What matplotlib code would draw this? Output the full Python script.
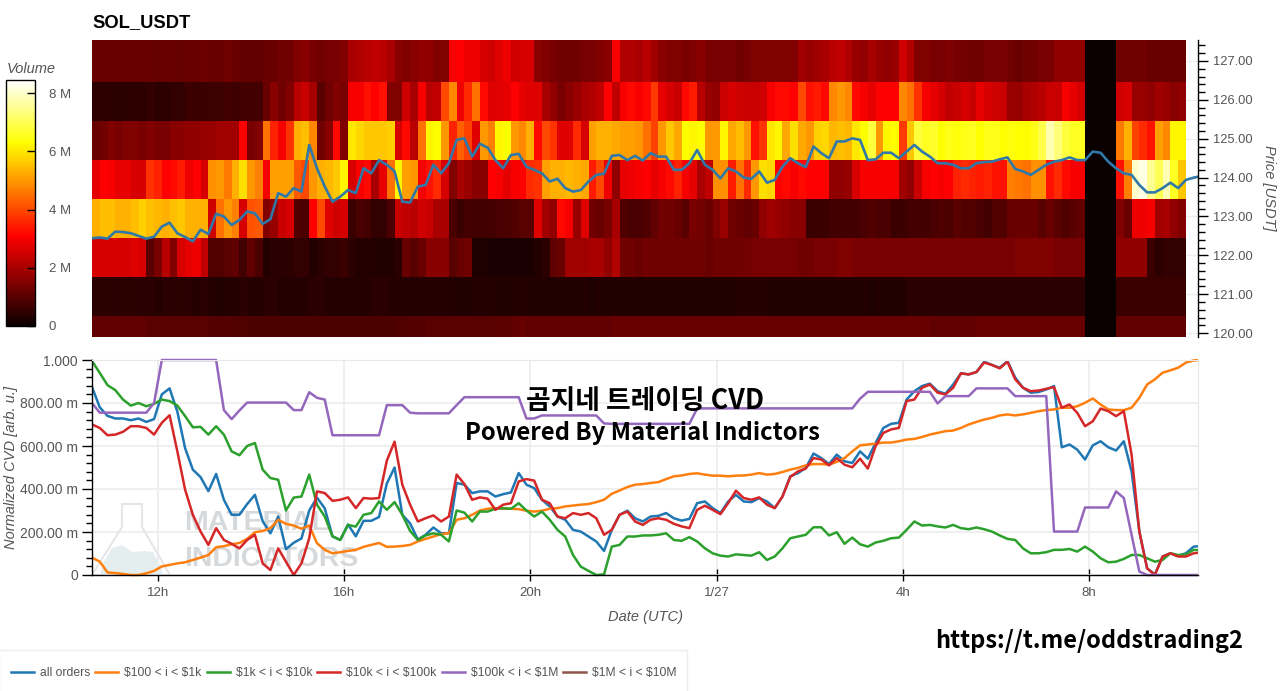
import numpy as np
import matplotlib
matplotlib.use('Agg')
import matplotlib.pyplot as plt
from matplotlib.transforms import Affine2D
from matplotlib.patches import Polygon, Rectangle
from matplotlib.lines import Line2D
from matplotlib.ticker import MultipleLocator

plt.rcParams['font.family'] = ['Liberation Sans', 'DejaVu Sans']

###  DATA  ###

first_hour = 10.58     # hours after 1/26 00:00 UTC
heat_step = 1/6        # ten minute columns
line_step = 1/6

price_rows = [120, 121, 122, 123, 124, 125, 126, 127]

# volume per price bin, in millions
vol_127 = [1.2,1.2,1.2,1.2,1.2,1.2,1.2, 1.2,1.15,1.2,1.2,1.15,1.2,1.2,1.25,1.2,1.2,1.3,1.2, 1.1,1.1,1.1,1.2,1.2,1.3,1.3, 1.5,1.6,1.4,1.3,1.4,1.4,1.5, 2.0,2.1,2.2,2.3,2.2,2.0, 1.6,1.5,1.6,1.7,1.7,
           1.5,1.5, 3.0,3.1,2.9,2.9, 2.6,2.5,2.7,2.9,2.5,2.6,2.6, 1.6,1.5,1.4,1.3,1.3,1.3,1.4,1.4,1.5,1.6, 3.0, 2.1,2.1,2.0,2.2,1.9, 1.6,1.5,1.5,1.4,1.5,1.6,1.4,1.4,1.4,1.4,1.3,1.4,1.5,1.5,1.5,1.5,1.5,1.5, 1.9,1.8,1.9,2.0, 2.2,2.3,2.1,
           1.8,1.7,2.0,1.8,1.7,1.8, 2.5,2.1, 1.5,1.5,1.4,1.4,1.5,1.4,1.3,1.3,1.3,1.4,1.4,1.4,1.3,1.2,1.3,1.3,1.4,1.4, 1.7,1.7,1.7,1.7,
           0,0,0,0, 1.3,1.3,1.3,1.3,1.2,1.2,1.2,1.2,1.2]
vol_126 = [.45,.45,.45,.4,.45,.45,.45,.5,.45,.45,.5,.5, .65,.6,.6,.65,.65,.7,.65,.7,.7,.7, 1.2,1.6,1.3,1.5, 2.2,2.4,2.0, 1.0,1.3,1.5,1.4, 3.0,3.0,3.3,3.1,3.3, 1.5,1.5, 2.5,2.0, 3.0,2.2,
           2.3,4.0,4.8,2.9,3.6,4.5,3.2, 2.7,2.7,2.8,3.1, 2.8,2.7,2.7,2.0,1.7, 1.4,1.6,1.8,2.0,2.1,2.3, 3.1,2.3, 3.0,3.2,3.0,3.2,3.8, 2.8,2.6,2.4, 3.2,3.4,2.2,1.8,1.7, 2.4,2.6,2.5,2.4,2.4,2.5, 3.0,3.2,3.2,3.1,4.0, 3.3,3.4,3.2, 4.8,5.0,4.8,
           3.2, 3.0,2.8,3.1,3.1,3.1, 4.8,4.5,3.7, 3.0,2.8,2.6, 2.3,2.4,2.6,2.4,2.8,2.6,2.5,2.4, 1.8,1.8,2.0,2.1,2.2,2.4,2.4, 3.0,2.8,2.6,
           0,0,0,0, 2.5,2.6,1.8,1.8,1.7,1.9,1.8,1.6,1.7]
vol_125 = [1.2,1.3,1.5,1.4,1.5,1.5,1.4,1.5,1.4,1.4,1.6,1.6,1.7,1.7,1.8,1.8,1.9,1.9,1.9, 3.1, 1.4,1.5, 4.5,3.5,3.0,3.7, 5.3,5.5,4.8, 1.3,1.6,3.2,1.5, 6.0,5.8,5.6,5.6,5.6,5.7, 2.6,3.2,2.2,4.5,6.2,
           6.3,5.0,3.5,4.3,3.9,2.7,5.0,4.7,6.2,6.3,5.0,4.8,5.3,3.2,4.0,3.7,2.7,2.7,3.6,2.6,5.1,5.3,5.3,5.2,5.1,5.1,5.0,4.5,3.9,5.0,5.6,5.2,6.3,6.2,6.3,5.0,5.0,6.2,5.2,5.5,5.0,3.3,3.7,6.0,6.2,5.2,5.9,5.2,5.0,5.7,5.8,5.4,5.5,5.4,
           6.0,6.3,6.8,5.0,6.2,6.3,3.8,5.6,6.8,6.6,6.7,6.3,6.5,6.4,6.5,6.6,6.3,6.5,6.5,6.3,6.4,6.3,6.3,6.5,6.9,7.8,7.3,6.8,6.6,6.6,
           0,0,0,0, 4.6,5.3,3.9,3.6,3.3,5.1,4.8,6.2,6.2]
vol_124 = [2.8,3.1,3.0,2.8,2.8,2.6,2.6, 3.7,3.5,3.1,3.2,3.4,2.9,3.1,2.6, 4.9,5.0,4.6,5.3,5.9,5.0,4.7, 3.0, 5.1,5.1,5.1, 4.2,4.0,5.0,5.3, 5.4,5.6,6.2, 2.6,3.0,3.2,2.0,2.8,4.5, 6.2,5.1,5.0,3.0,3.3,
           3.6,2.6,1.5,2.0,1.8,1.6,1.6,3.1,3.0,2.8,3.0,3.1,3.6,3.7,5.1,5.3,5.3,5.4,5.3,5.2,3.4,4.0,2.9,1.7,2.8,2.9,3.0,3.1,2.8,3.0,3.2,3.5,3.0,2.8,2.0,2.3,4.9,4.9,3.4,4.5,3.6,5.0,5.9,5.8,3.1,3.2,3.0,3.2,3.1,3.1,3.1,1.7,1.7,1.8,
           2.6,3.0,3.0,3.0,3.0,3.0,1.9,1.7,2.4,3.0,3.1,3.0,3.1,3.5,3.6,3.5,3.4,3.5,3.3,3.3,4.7,4.6,4.5,4.9,4.9,3.3,3.6,3.2,3.0,3.0,
           0,0,0,0, 3.3,4.7,8.0,8.2,7.5,7.0,7.8,6.6,5.6]
vol_123 = [5.3,5.5,5.5,5.3,5.3,5.5,5.7,5.5,5.4,5.3,5.5,5.6,5.3,5.3,5.3, 2.5,4.5,5.0,4.7,2.6,4.1,4.2, 1.5,1.8,2.4,2.6, .9,.8,3.1,4.0,2.7,2.5,2.6, .6,.8,.7,.5,.5,.8, 2.4,2.3,2.2,2.5,2.4,
           2.0,2.0,.8,.6,.75,.7,.7,.7,.8,.8,.9,1.0,1.0,2.7,1.9,1.7,3.2,3.0,1.8,2.7,1.3,1.2,1.4,2.0,.9,.8,.8,.9,1.1,1.3,1.3,1.2,1.0,1.4,1.3,1.2,1.5,1.8,1.3,1.2,1.1,1.2,1.7,1.9,1.8,1.7,1.6,1.6,.6,.6,.6,.7,.7,.7,
           .7,.8,.9,.8,.8,.6,.65,.7,.75,.7,.8,.9,.8,1.0,.9,.9,.8,.7,.9,.9, 1.2,1.2,1.2,1.2,1.0,1.2,1.0,.9,1.0,1.1,
           0,0,0,0, 1.5,1.2,2.9,2.9,3.0,1.9,2.0,1.7,1.5]
vol_122 = [2.6,2.6,2.6,2.6,2.6,2.7,2.6, 1.0,1.4,2.2,1.5,2.6,2.8,2.9,2.3, .9,.9,1.0,1.1,.7,1.1,.8, .3,.4,.4,.45,.5,.5,.3,.4,.5,.5,.6, .4,.3,.35,.3,.3,.3,.4, 1.2,1.0,1.2,1.6,
           1.6,1.6,1.0,1.2,1.3, .25,.25,.2,.2,.2,.2,.2,.2,.3,.4, 1.1, 1.2,1.9,1.9,1.9,2.0,2.0,1.7,2.1, 1.3,1.3,1.2,1.3,1.3,1.3,1.3,1.3,1.3,1.3,1.3,1.2,1.3,1.3,1.3,1.3,1.3,1.4,1.4,1.4,1.4,1.4,1.4,1.3,1.3,1.4,1.4,1.4,1.5,1.5,
           1.4,1.4,1.4,1.4,1.4,1.4,1.4,1.4,1.4,1.4,1.4,1.4,1.4,1.4,1.4,1.4,1.4,1.4,1.4,1.4,1.4,1.5,1.5,1.5,1.5,1.5,1.4,1.4,1.4,1.4,
           0,0,0,0, 1.7,1.7,1.7,1.7,.6,.45,.5,.5,.5]
vol_121 = [.4,.45,.4,.4,.45,.4,.4,.4,.35,.4,.4,.45,.4,.35,.4,.35,.3,.35,.35,.4,.35,.35,.4,.4,.35,.35,.35,.35,.4,.4,.35,.35,.35,.3,.35,.35,.4,.4,.35,.35,.35,.35,.35,.35,
           .35,.35,.3,.3,.3,.35,.35,.35,.3,.3,.3,.35,.3,.3,.3,.3,.3,.3,.3,.3,.25,.3,.3,.3,.3,.3,.3,.3,.3,.3,.3,.3,.3,.3,.3,.3,.3,.3,.3,.35,.35,.35,.35,.3,.3,.3,.3,.3,.3,.3,.3,.3,.3,.3,
           .3,.3,.25,.3,.3,.3,.3,.4,.4,.4,.4,.4,.4,.4,.4,.4,.4,.4,.4,.4,.4,.4,.4,.4,.4,.4,.4,.4,.4,.4,
           0,0,0,0, .6,.6,.6,.6,.6,.6,.6,.6,.6]
vol_120 = [1.1,1.1,1.1,1.1,1.1,1.1,1.1,1.0,1.0,1.0,1.0,1.0,1.0,1.0,1.0,.95,.95,.95,.9,.9,.85,.85,.85,.85,.85,.85,.85,.85,.85,.85,.85,.85,.85,.85,.85,.85,.85,.85,.85,.9,.9,.95,.95,1.0,
           1.0,1.0,1.0,1.0,1.0,1.0,1.0,1.0,1.05,1.05,1.1,1.2,1.1,1.1,1.1,1.1,1.1,1.1,1.1,1.1,1.1,1.1,1.1,1.2,1.2,1.2,1.2,1.2,1.2,1.2,1.2,1.2,1.2,1.2,1.2,1.2,1.2,1.2,1.2,1.2,1.2,1.2,1.2,1.2,1.2,1.2,1.2,1.2,1.2,1.2,1.2,1.2,1.2,1.2,
           1.2,1.2,1.2,1.2,1.2,1.2,1.2,1.2,1.2,1.2,1.1,1.1,1.1,1.1,1.1,1.1,1.2,1.2,1.2,1.2,1.2,1.2,1.2,1.2,1.2,1.2,1.2,1.2,1.2,1.2,
           0,0,0,0, 1.1,1.1,1.1,1.1,1.1,1.1,1.1,1.1,1.1]

price = [122.44,122.46,122.43,122.61,122.6,122.57,122.5,122.43,122.48,122.74,122.84,122.57,122.47,122.36,122.66,122.55,123.07,123.0,122.78,122.91,123.13,123.08,122.81,122.93,123.6,123.51,123.73,123.64,124.84,124.24,123.77,123.38,123.51,123.68,123.6,124.24,124.11,124.45,124.33,124.16,123.38,123.36,123.77,123.81,
         124.33,124.11,124.37,124.97,125.01,124.54,124.87,124.77,124.45,124.24,124.58,124.61,124.28,124.2,124.11,123.9,123.97,123.73,123.64,123.68,123.9,124.07,124.1,124.56,124.58,124.45,124.56,124.44,124.63,124.54,124.54,124.2,124.2,124.37,124.71,124.33,124.2,123.98,124.24,124.16,124.0,123.97,124.16,123.87,123.94,124.28,124.5,124.37,124.27,124.8,124.63,124.5,124.93,124.93,
         125.01,124.97,124.45,124.47,124.64,124.64,124.5,124.67,124.84,124.67,124.54,124.37,124.37,124.33,124.24,124.24,124.37,124.4,124.41,124.47,124.52,124.22,124.16,124.07,124.2,124.33,124.41,124.45,124.52,124.45,124.45,124.67,124.64,124.41,124.24,124.11,124.07,123.81,123.62,123.62,123.73,123.87,123.73,123.94,124.0,124.04]

all_orders = [.874,.78,.74,.728,.728,.72,.728,.712,.725,.84,.868,.76,.59,.49,.455,.39,.47,.35,.28,.28,.33,.373,.25,.194,.272,.12,.15,.17,.30,.36,.31,.18,.163,.235,.18,.252,.252,.27,.425,.50,.28,.24,.165,.187,
              .221,.194,.194,.428,.42,.381,.389,.389,.365,.376,.384,.474,.42,.404,.35,.319,.272,.257,.21,.202,.179,.156,.112,.21,.28,.299,.264,.249,.272,.275,.288,.264,.253,.261,.334,.342,.311,.288,.342,.373,.342,.339,.358,.342,.311,.365,.459,.474,.498,.565,.544,.516,.56,.529,.521,
              .575,.541,.614,.684,.703,.708,.816,.855,.879,.89,.855,.843,.886,.938,.933,.944,.992,.977,.964,.995,.918,.871,.848,.851,.863,.879,.594,.607,.583,.537,.603,.622,.594,.579,.622,.482,.202,.031,.003,.086,.101,.089,.101,.132,.135]
orders_100_1k = [.081,.062,.012,.009,.005,0,0,.008,.019,.04,.047,.054,.059,.07,.081,.093,.129,.134,.143,.149,.168,.199,.205,.218,.257,.238,.23,.215,.23,.148,.117,.101,.106,.112,.117,.131,.14,.149,.131,.132,.135,.14,.156,.168,
                 .179,.19,.194,.257,.264,.28,.30,.308,.311,.308,.308,.306,.299,.295,.299,.308,.311,.319,.323,.327,.33,.339,.35,.378,.393,.409,.42,.423,.428,.432,.446,.459,.463,.47,.473,.467,.462,.462,.459,.462,.463,.467,.474,.467,.47,.479,.49,.498,.51,.516,.516,.513,.526,.544,.575,
                 .603,.607,.611,.616,.616,.622,.63,.633,.642,.653,.661,.669,.672,.684,.70,.712,.723,.731,.742,.747,.742,.747,.754,.762,.767,.77,.778,.778,.785,.801,.821,.793,.77,.767,.767,.778,.824,.886,.91,.941,.952,.964,.988,.998,1.0]
orders_1k_10k = [.995,.94,.883,.86,.816,.788,.80,.785,.796,.816,.809,.788,.739,.687,.689,.653,.692,.653,.575,.557,.60,.614,.49,.451,.443,.30,.36,.365,.467,.327,.272,.179,.163,.233,.225,.28,.288,.342,.303,.339,.28,.205,.163,.184,
                 .194,.187,.156,.30,.29,.249,.295,.295,.308,.311,.308,.334,.30,.272,.295,.257,.21,.179,.093,.039,.019,0,.003,.132,.14,.179,.179,.184,.184,.187,.194,.163,.159,.176,.156,.124,.101,.09,.086,.096,.093,.09,.106,.07,.086,.124,.171,.179,.187,.222,.222,.184,.199,.145,.174,
                 .143,.132,.151,.159,.171,.174,.21,.249,.23,.233,.226,.221,.233,.218,.213,.221,.213,.202,.184,.168,.163,.124,.101,.101,.106,.117,.117,.121,.109,.132,.109,.078,.059,.062,.075,.093,.093,.078,.062,.07,.101,.093,.096,.117,.115]
orders_10k_100k = [.70,.684,.65,.653,.666,.692,.692,.684,.653,.708,.743,.575,.397,.28,.202,.14,.218,.163,.145,.124,.163,.187,.054,.023,.124,.062,0,.054,.171,.389,.381,.345,.35,.361,.311,.358,.355,.358,.532,.62,.42,.327,.249,.264,
                   .277,.249,.272,.467,.423,.35,.361,.355,.303,.327,.334,.435,.446,.439,.35,.334,.272,.264,.288,.28,.288,.264,.187,.21,.28,.295,.249,.233,.257,.264,.257,.238,.226,.218,.303,.322,.303,.283,.334,.392,.358,.35,.361,.327,.311,.365,.456,.482,.495,.544,.537,.51,.544,.513,.501,
                   .541,.495,.599,.661,.677,.684,.809,.816,.871,.886,.848,.84,.871,.938,.933,.944,.988,.977,.961,.992,.91,.871,.855,.858,.866,.874,.778,.793,.754,.692,.715,.774,.762,.739,.762,.56,.202,.031,0,.086,.101,.086,.086,.101,.105]
orders_100k_1m = [.80,.755,.755,.755,.755,.755,.755,.755,.80,1.0,1.0,1.0,1.0,1.0,1.0,1.0,1.0,.767,.725,.765,.802,.802,.802,.802,.802,.802,.767,.767,.85,.824,.816,.65,.65,.65,.65,.65,.65,.65,.79,.79,.79,.755,.752,.752,
                  .752,.752,.752,.79,.827,.827,.827,.827,.827,.827,.827,.827,.728,.728,.742,.742,.742,.742,.742,.742,.742,.742,.705,.703,.703,.703,.703,.703,.703,.703,.703,.703,.703,.703,.775,.775,.775,.775,.775,.775,.775,.775,.775,.775,.775,.775,.775,.775,.775,.775,.775,.775,.775,.775,.775,
                  .82,.852,.852,.852,.852,.852,.852,.852,.852,.852,.798,.832,.832,.832,.832,.868,.868,.868,.868,.868,.832,.832,.832,.832,.832,.202,.202,.202,.202,.314,.314,.314,.314,.389,.358,.187,.016,0,0,0,0,0,0,0,0]

series_labels = ['all orders', r'\$100 < i < \$1k', r'\$1k < i < \$10k', r'\$10k < i < \$100k', r'\$100k < i < \$1M', r'\$1M < i < \$10M']
series_colors = ['#1f77b4', '#ff7f0e', '#2ca02c', '#d62728', '#9467bd', '#8c564b']

hour_ticks = [12, 16, 20, 24, 28, 32]
hour_labels = ['12h', '16h', '20h', '1/27', '4h', '8h']
cvd_ticks = [0, 0.2, 0.4, 0.6, 0.8, 1.0]
cvd_labels = ['0', '200.00 m', '400.00 m', '600.00 m', '800.00 m', '1.000']
price_ticks = [120, 121, 122, 123, 124, 125, 126, 127]
price_labels = ['120.00', '121.00', '122.00', '123.00', '124.00', '125.00', '126.00', '127.00']
volume_ticks = [0, 2, 4, 6, 8]
volume_labels = ['0', '2 M', '4 M', '6 M', '8 M']

###  PLOT  ###

W, H = 1280, 691
grey = '#555555'
xlim = (first_hour, 34.34)

def rect(x0, y0, x1, y1):
    return [x0/W, 1-y1/H, (x1-x0)/W, (y1-y0)/H]

# overlay stuff is placed in image pixels
px = Affine2D().scale(1, -1).translate(0, H)

fig = plt.figure(figsize=(W/100, H/100), dpi=100)

ax1 = fig.add_axes(rect(92, 40, 1198, 337))
volume = np.array([vol_120, vol_121, vol_122, vol_123, vol_124, vol_125, vol_126, vol_127])
x_edges = first_hour + heat_step*np.arange(volume.shape[1]+1)
y_edges = np.array(price_rows + [128.2]) - 0.55
ax1.grid(True, axis='y', color='#eeeeee', lw=1)
ax1.set_axisbelow(True)
mesh = ax1.pcolormesh(x_edges, y_edges, volume, cmap='hot', vmin=0, vmax=8.45, shading='flat', zorder=1)
hours = first_hour + line_step*np.arange(len(price))
ax1.plot(hours, price, color='#2f78a8', lw=1.9, zorder=2, solid_joinstyle='round')
ax1.set_xlim(xlim)
ax1.set_ylim(119.9, 127.54)
ax1.xaxis.set_visible(False)
ax1.yaxis.tick_right()
ax1.set_yticks(price_ticks, price_labels)
ax1.yaxis.set_minor_locator(MultipleLocator(0.2))
ax1.tick_params(axis='y', which='major', direction='out', length=7, width=1, labelsize=9.3, labelcolor=grey, pad=3.5)
ax1.tick_params(axis='y', which='minor', direction='out', length=5, width=1)
for s in ['top', 'left', 'bottom']:
    ax1.spines[s].set_visible(False)
ax1.spines['right'].set_linewidth(1)
ax1.text(1269, 188, 'Price [USDT]', transform=px, rotation=270, style='italic', fontsize=10.5,
         color=grey, ha='center', va='center', clip_on=False)
ax1.text(92, 23, 'SOL_USDT', transform=px, fontsize=13.2, fontweight='bold', color='black', ha='left', va='center')

cax = fig.add_axes(rect(6, 80, 35, 326))
cb = fig.colorbar(mesh, cax=cax)
cb.set_ticks(volume_ticks, labels=volume_labels)
cax.tick_params(direction='in', length=6, width=1, labelsize=9.5, labelcolor=grey, pad=10)
cb.outline.set_linewidth(1)
cax.minorticks_off()
fig.text(7, 69, 'Volume', transform=px, style='italic', fontsize=10.5, color=grey, ha='left', va='center')

ax2 = fig.add_axes(rect(92, 360, 1198, 575))
ax2.set_xlim(xlim)
ax2.set_ylim(0, 1)
ax2.grid(True, color='#eeeeee', lw=1.3)
ax2.set_axisbelow(True)

# watermark
flask = Polygon([[122, 504], [142, 504], [142, 527], [170, 575], [92, 575], [122, 527]], closed=True,
                transform=px, fill=False, ec='#e6e6e6', lw=1.5, zorder=0.6)
ax2.add_patch(flask)
blob = Polygon([[103, 563], [112, 548], [122, 545], [132, 552], [145, 551], [153, 552], [160, 565], [163, 575], [100, 575]],
               closed=True, transform=px, fc='#e4eeef', ec='none', zorder=0.6)
ax2.add_patch(blob)
ax2.text(184, 523, 'MATERIAL', transform=px, fontsize=20.5, fontweight='bold', color='#d6d9db', va='center', zorder=0.6)
ax2.text(184, 559, 'INDICATORS', transform=px, fontsize=20.5, fontweight='bold', color='#d6d9db', va='center', zorder=0.6)

# lines may overshoot the frame a little at the top and bottom, as in bokeh
line_clip = Rectangle((92, 357), 1106, 220, transform=px)
cvd_series = [all_orders, orders_100_1k, orders_1k_10k, orders_10k_100k, orders_100k_1m]
handles = []
for vals, lab, col in zip(cvd_series, series_labels, series_colors):
    line, = ax2.plot(hours, vals, color=col, lw=1.8, label=lab, solid_joinstyle='round')
    line.set_clip_path(line_clip)
    handles.append(line)
handles.append(Line2D([], [], color=series_colors[5], lw=1.8, label=series_labels[5]))

ax2.set_xticks(hour_ticks, hour_labels)
ax2.set_yticks(cvd_ticks, cvd_labels)
ax2.yaxis.set_minor_locator(MultipleLocator(0.04))
ax2.tick_params(axis='x', direction='inout', length=9, width=1, labelsize=9.5, labelcolor=grey, pad=4)
ax2.tick_params(axis='y', which='major', direction='out', length=7, width=1, labelsize=10, labelcolor=grey, pad=3)
ax2.tick_params(axis='y', which='minor', direction='out', length=4, width=1)
ax2.spines['top'].set_color('#e8e8e8')
ax2.spines['right'].set_color('#e8e8e8')
ax2.spines['left'].set_linewidth(1)
ax2.spines['bottom'].set_linewidth(1)
ax2.set_xlabel('Date (UTC)', style='italic', fontsize=10.5, color=grey, labelpad=8)
ax2.text(11, 467, 'Normalized CVD [arb. u.]', transform=px, rotation=90, style='italic', fontsize=10.5,
         color=grey, ha='center', va='center', clip_on=False)

fig.add_artist(Rectangle((-1, 650), 688, 43, transform=px, fc='white', ec='#eeeeee', lw=1))
leg = fig.legend(handles=handles, ncol=6, loc='lower left', bbox_to_anchor=(-0.002, -0.0015), frameon=False,
                 fontsize=8.7, labelcolor=grey, columnspacing=0.43, handlelength=1.9,
                 handletextpad=0.5, borderpad=1.1, borderaxespad=0)

overlay_font = ['Noto Sans CJK KR', 'DejaVu Sans']
fig.text(645, 401, '곰지네 트레이딩 CVD', transform=px, family=overlay_font, fontweight='bold', fontsize=19.3,
         color='black', ha='center', va='center', zorder=5)
fig.text(642, 433, 'Powered By Material Indictors', transform=px, family=overlay_font, fontweight='bold', fontsize=17.2,
         color='black', ha='center', va='center', zorder=5)
fig.text(1089, 641, 'https://t.me/oddstrading2', transform=px, family=overlay_font, fontweight='bold', fontsize=17,
         color='black', ha='center', va='center', zorder=5)

fig.savefig('out.png', dpi=100)
